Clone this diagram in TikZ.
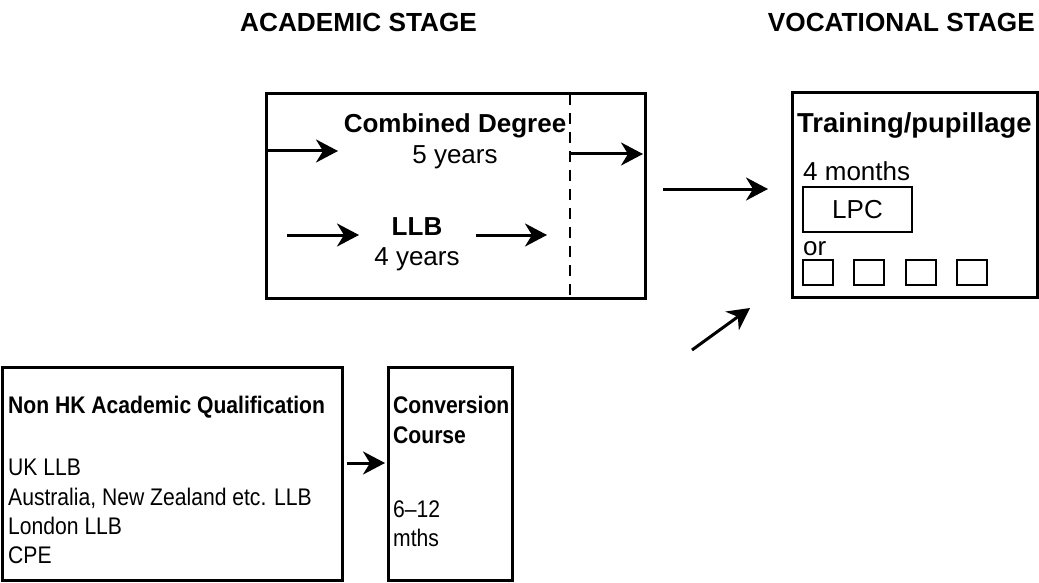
\documentclass[tikz,border=0pt]{standalone}
\usepackage{fontspec}
\setmainfont{Liberation Sans}
\newfontfamily\condfont[FakeStretch=0.88]{Liberation Sans}
\usetikzlibrary{arrows.meta}
\begin{document}
\begin{tikzpicture}[x=1pt,y=-1pt,
 box/.style={draw, line width=3pt, inner sep=0pt, outer sep=0pt},
 smallbox/.style={draw, line width=2.5pt, inner sep=0pt, outer sep=0pt},
 txt/.style={inner sep=0pt, font=\fontsize{26}{30}\selectfont},
 btxt/.style={inner sep=0pt, font=\fontsize{26}{30}\selectfont\bfseries},
 ttl/.style={inner sep=0pt, font=\fontsize{26.2}{30}\selectfont\bfseries},
 ctxt/.style={inner sep=0pt, font=\condfont\fontsize{24}{28}\selectfont},
 cbtxt/.style={inner sep=0pt, font=\condfont\bfseries\fontsize{24}{28}\selectfont},
 arr/.style={line width=3pt, -{Stealth[length=22pt,width=23pt,inset=7pt]}},
 dash line/.style={line width=2.6pt, dash pattern=on 11pt off 8pt},
]
\useasboundingbox (0,0) rectangle (1039,583);

% titles
\node[ttl, anchor=base west] (ttlA) at (240,32) {ACADEMIC STAGE};
\node[ttl, anchor=base east] (ttlV) at (1035,32) {VOCATIONAL STAGE};

% academic box
\node[box, anchor=north west, minimum width=379pt, minimum height=204pt] (acad) at (266,94) {};
\coordinate (dtop) at (570,94);
\coordinate (dbot) at (570,298);
\draw[dash line] (dtop) -- (dbot);

\node[btxt, anchor=base] (comb) at (455,133) {Combined Degree};
\node[txt, anchor=base] (comb5) at (455,164) {5 years};
\node[btxt, anchor=base] (llb) at (417,235) {LLB};
\node[txt, anchor=base] (llb4) at (417,265) {4 years};

\coordinate (c1s) at (266,151);
\coordinate (c1e) at (338,151);
\coordinate (c2s) at (570,154);
\coordinate (c2e) at (643,154);
\coordinate (l1s) at (287,235);
\coordinate (l1e) at (359,235);
\coordinate (l2s) at (476,235);
\coordinate (l2e) at (547,235);
\draw[arr] (c1s) -- (c1e);
\draw[arr] (c2s) -- (c2e);
\draw[arr] (l1s) -- (l1e);
\draw[arr] (l2s) -- (l2e);

% vocational box
\node[box, anchor=north west, minimum width=245pt, minimum height=204pt] (voc) at (792,93) {};
\node[btxt, anchor=base west, font=\fontsize{27.4}{30}\selectfont\bfseries] (train) at (797,133) {Training/pupillage};
\node[txt, anchor=base west] (months) at (803,180) {4 months};
\node[smallbox, anchor=north west, minimum width=109pt, minimum height=45pt, font=\fontsize{26}{30}\selectfont] (lpc) at (803,187) {LPC};
\node[txt, anchor=base west] (or) at (803,255) {or};
\node[smallbox, anchor=north west, minimum width=30pt, minimum height=25pt] (sq1) at (803,260) {};
\node[smallbox, anchor=north west, minimum width=30pt, minimum height=25pt] (sq2) at (854,260) {};
\node[smallbox, anchor=north west, minimum width=30pt, minimum height=25pt] (sq3) at (906,260) {};
\node[smallbox, anchor=north west, minimum width=30pt, minimum height=25pt] (sq4) at (957,260) {};

\coordinate (a1s) at (663,189);
\coordinate (a1e) at (768,189);
\draw[arr] (a1s) -- (a1e);
\coordinate (a2s) at (692,350);
\coordinate (a2e) at (750,308);
\draw[arr] (a2s) -- (a2e);

% bottom boxes
\node[box, anchor=north west, minimum width=340pt, minimum height=213pt] (nonhk) at (2,367) {};
\node[cbtxt, anchor=base west] (nhkt) at (8,413) {Non HK Academic Qualification};
\node[ctxt, anchor=base west] (uk) at (8,475) {UK LLB};
\node[ctxt, anchor=base west] (aus) at (8,505) {Australia, New Zealand etc. LLB};
\node[ctxt, anchor=base west] (lon) at (8,534) {London LLB};
\node[ctxt, anchor=base west] (cpe) at (8,563) {CPE};

\node[box, anchor=north west, minimum width=124pt, minimum height=213pt] (conv) at (388,367) {};
\node[cbtxt, anchor=base west] (convt) at (393,413) {Conversion};
\node[cbtxt, anchor=base west] (course) at (393,443) {Course};
\node[ctxt, anchor=base west] (dur) at (393,517) {6–12};
\node[ctxt, anchor=base west] (mths) at (393,546) {mths};

\coordinate (b1s) at (347,463);
\coordinate (b1e) at (385,463);
\draw[arr] (b1s) -- (b1e);
\end{tikzpicture}
\end{document}
